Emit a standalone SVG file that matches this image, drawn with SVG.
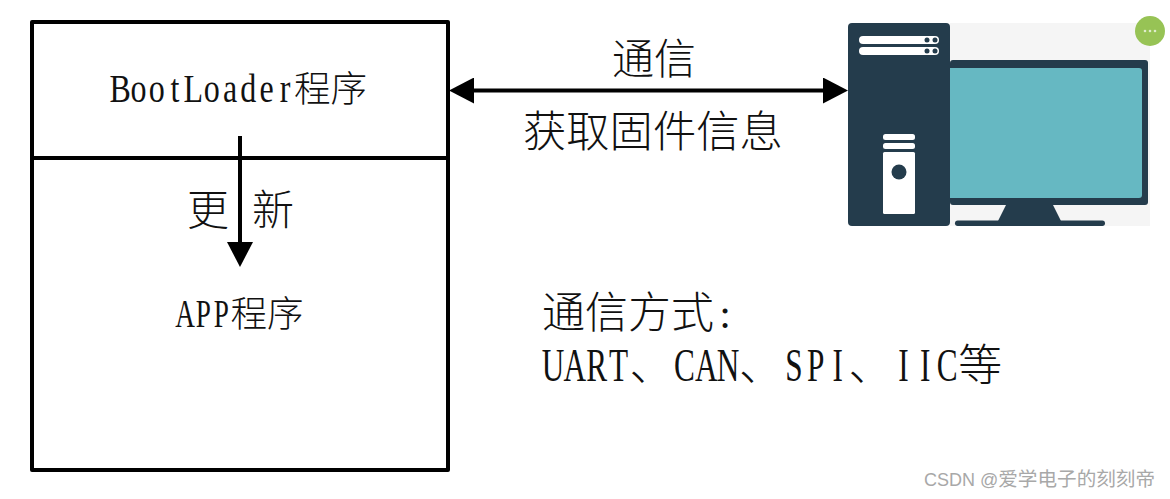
<svg xmlns="http://www.w3.org/2000/svg" width="1170" height="499" viewBox="0 0 1170 499">
<style>
.t{font-family:"Noto Sans CJK SC",sans-serif;fill:#111;font-weight:300}
.s{font-family:"Liberation Serif",serif;fill:#111;text-anchor:middle}
.ln{stroke:#000;stroke-width:4;fill:none}
.d{fill:#243c4c}.w{fill:#fff}
</style>
<defs>
<marker id="a" markerUnits="userSpaceOnUse" markerWidth="26" markerHeight="26" refX="5" refY="13" orient="auto-start-reverse"><path d="M0 0L25 13L0 26Z" fill="#000"/></marker>
</defs>
<rect width="1170" height="499" fill="#fff"/>
<g id="firmware-box">
<rect class="ln" x="32" y="22" width="416" height="448" stroke-linejoin="round"/>
<line class="ln" x1="32" y1="158" x2="448" y2="158"/>
<text class="s" transform="translate(111,102) scale(.8 1)" font-size="40" x="11.400 34.300 57.200 80.100 103 125.900 148.800 171.700 194.600 217.500">BootLoader</text>
<text class="t" x="294" y="102" font-size="36.500">程序</text>
<text class="s" transform="translate(176,327) scale(.68 1)" font-size="40" x="13.400 40.100 66.800">APP</text>
<text class="t" x="230.500" y="327" font-size="36.500">程序</text>
</g>
<g id="connectors">
<line class="ln" x1="240" y1="136" x2="240" y2="247" marker-end="url(#a)"/>
<line class="ln" x1="469" y1="90.500" x2="828" y2="90.500" marker-start="url(#a)" marker-end="url(#a)"/>
</g>
<g id="labels">
<text class="t" x="187" y="225" font-size="42">更</text>
<text class="t" x="252" y="225" font-size="42">新</text>
<text class="t" x="612" y="74" font-size="42">通信</text>
<text class="t" x="523" y="147" font-size="43.300">获取固件信息</text>
<text class="t" x="542" y="328" font-size="43">通信方式</text>
<text class="s" x="725" y="328" font-size="42">:</text>
<text class="s" transform="translate(542,381) scale(.68 1)" font-size="46" x="16.100 48.300 80.500 112.700">UART</text>
<text class="t" x="629.600" y="381" font-size="43.800">、</text>
<text class="s" transform="translate(673.400,381) scale(.68 1)" font-size="46" x="16.100 48.300 80.500">CAN</text>
<text class="t" x="739.100" y="381" font-size="43.800">、</text>
<text class="s" transform="translate(782.900,381) scale(.68 1)" font-size="46" x="16.100 48.300 80.500">SPI</text>
<text class="t" x="848.600" y="381" font-size="43.800">、</text>
<text class="s" transform="translate(892.400,381) scale(.68 1)" font-size="46" x="16.100 48.300 80.500">IIC</text>
<text class="t" x="958.200" y="381" font-size="43.800">等</text>
</g>
<g id="computer">
<rect x="950" y="23" width="200" height="203" fill="#f5f5f5"/>
<rect class="d" x="950" y="60" width="198" height="145" rx="3"/>
<rect x="944" y="68" width="198" height="130" rx="3" fill="#66b8c2"/>
<path class="d" d="M1006 205H1053L1061 221H998Z"/>
<rect class="d" x="955" y="220.500" width="150" height="5.500" rx="2.700"/>
<rect class="d" x="848" y="23" width="102" height="203" rx="4"/>
<rect class="w" x="859" y="36" width="80" height="8" rx="4"/>
<rect class="w" x="859" y="47" width="80" height="8" rx="4"/>
<g class="d"><circle cx="927" cy="40" r="2.500"/><circle cx="935" cy="40" r="2.500"/><circle cx="927" cy="51" r="2.500"/><circle cx="935" cy="51" r="2.500"/></g>
<rect class="w" x="883" y="134" width="32" height="6" rx="2.500"/>
<rect class="w" x="883" y="143" width="32" height="6" rx="2.500"/>
<rect class="w" x="883" y="152" width="32" height="62" rx="1.500"/>
<circle class="d" cx="899" cy="172" r="7.500"/>
</g>
<g id="menu-badge">
<circle cx="1150" cy="31" r="15" fill="#97c355"/>
<g fill="#dfeccb"><circle cx="1145" cy="31" r="1.300"/><circle cx="1150" cy="31" r="1.300"/><circle cx="1155" cy="31" r="1.300"/></g>
</g>
<g id="watermark">
<text x="924" y="486" font-size="18" fill="#a8a8a8" font-family="'Liberation Sans','Noto Sans CJK SC',sans-serif">CSDN @<tspan font-size="19.600" font-family="'Noto Sans CJK SC',sans-serif">爱学电子的刻刻帝</tspan></text>
</g>
</svg>
